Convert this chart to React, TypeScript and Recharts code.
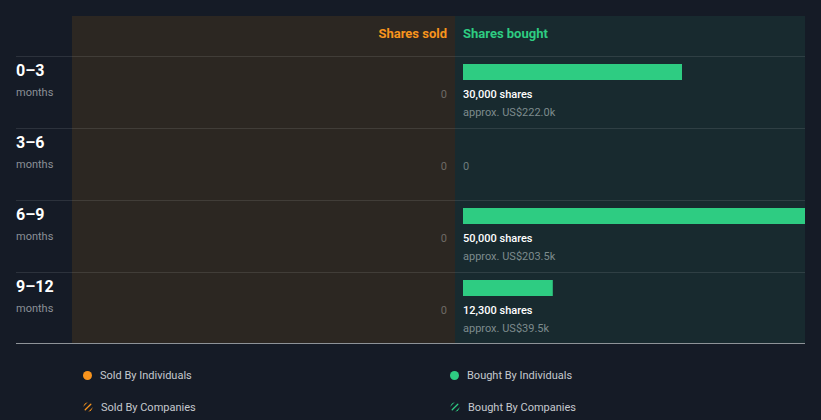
import React from "react";
import { BarChart, Bar, XAxis, YAxis, LabelList } from "recharts";

// rows of the insider trading table
const periods = ["0–3", "3–6", "6–9", "9–12"];
const periodUnit = "months";
const soldShares = [0, 0, 0, 0];
const boughtShares = [30000, 0, 50000, 12300];
const boughtApprox = ["US$222.0k", "", "US$203.5k", "US$39.5k"];
const scaleMax = 50000;

const legendItems = [
  { label: "Sold By Individuals", color: "#f8941d", hatched: false },
  { label: "Bought By Individuals", color: "#2ecc82", hatched: false },
  { label: "Sold By Companies", color: "#f8941d", hatched: true },
  { label: "Bought By Companies", color: "#2ecc82", hatched: true },
];

const rows = periods.map((p, i) => ({
  period: p,
  sold: soldShares[i],
  bought: boughtShares[i],
  approx: boughtApprox[i],
}));

const BG = "#151b26";
const SOLD_BG = "#2c2722";
const BOUGHT_BG = "#182a2f";
const ORANGE = "#f8941d";
const GREEN = "#2ecc82";
const FONT = "Roboto, 'Noto Sans', sans-serif";

const SOLD_W = 455;
const SOLD_PAD = 8;

const fmt = (n: number) => n.toLocaleString("en-US");

// row label on the left, sold value at the right end of the sold panel
const PeriodTick = (props: any) => {
  const { y, payload } = props;
  const row = rows.find((r) => r.period === payload.value);
  return (
    <g>
      <text x={16} y={y - 16} fill="#ffffff" fontSize={16} fontWeight={700} fontFamily={FONT}>
        {payload.value}
      </text>
      <text x={16} y={y + 4} fill="#8b9097" fontSize={11} fontFamily={FONT}>
        {periodUnit}
      </text>
      {row && (
        <text x={SOLD_W - SOLD_PAD} y={y + 6} textAnchor="end" fill="#6e6a66" fontSize={11} fontFamily={FONT}>
          {fmt(row.sold)}
        </text>
      )}
    </g>
  );
};

const BoughtBar = (props: any) => {
  const { x, y, width } = props;
  if (!width || width <= 0) return null;
  return <rect x={x} y={y + 8} width={width} height={16} fill={GREEN} />;
};

const boughtLabel = (props: any) => {
  const vb = props.viewBox || props;
  const { index } = props;
  const row = rows[index];
  const x = vb.x;
  const y = vb.y;
  if (!row) return null;
  if (!row.bought) {
    return (
      <text x={x} y={y + 42} fill="#6f7c7e" fontSize={11} fontFamily={FONT}>
        0
      </text>
    );
  }
  return (
    <g>
      <text x={x} y={y + 42} fill="#ffffff" fontSize={11} fontWeight={500} fontFamily={FONT}>
        {fmt(row.bought)} shares
      </text>
      <text x={x} y={y + 60} fill="#7d8b8d" fontSize={11} fontFamily={FONT}>
        approx. {row.approx}
      </text>
    </g>
  );
};

const HatchIcon = ({ color, id }: { color: string; id: string }) => (
  <svg width={10} height={10} style={{ display: "block" }}>
    <defs>
      <clipPath id={id}>
        <circle cx={5} cy={5} r={4.5} />
      </clipPath>
    </defs>
    <g clipPath={`url(#${id})`} stroke={color} strokeWidth={1.3}>
      <line x1={-2} y1={6} x2={6} y2={-2} />
      <line x1={0} y1={10} x2={10} y2={0} />
      <line x1={4} y1={12} x2={12} y2={4} />
    </g>
  </svg>
);

export default function App() {
  const seps = [56, 128, 200, 272];
  return (
    <div
      style={{
        position: "absolute",
        left: 0,
        top: 0,
        width: 821,
        height: 420,
        background: BG,
        fontFamily: FONT,
        overflow: "hidden",
      }}
    >
      {/* panels */}
      <div style={{ position: "absolute", left: 72, top: 16, width: 383, height: 327, background: SOLD_BG }} />
      <div style={{ position: "absolute", left: 455, top: 16, width: 350, height: 327, background: BOUGHT_BG }} />

      {/* header */}
      <div
        style={{
          position: "absolute",
          left: 72,
          top: 26,
          width: 375,
          textAlign: "right",
          color: ORANGE,
          fontSize: 13,
          fontWeight: 700,
        }}
      >
        Shares sold
      </div>
      <div style={{ position: "absolute", left: 463, top: 26, color: GREEN, fontSize: 13, fontWeight: 700 }}>
        Shares bought
      </div>

      {seps.map((y) => (
        <div
          key={y}
          style={{ position: "absolute", left: 16, top: y, width: 789, height: 1, background: "rgba(255,255,255,0.1)" }}
        />
      ))}
      <div style={{ position: "absolute", left: 16, top: 343, width: 789, height: 1, background: "#8e9398" }} />

      {/* sold side */}
      <div style={{ position: "absolute", left: 0, top: 56, width: SOLD_W, height: 288 }}>
        <BarChart
          width={SOLD_W}
          height={288}
          data={rows}
          layout="vertical"
          margin={{ top: 0, right: SOLD_PAD, bottom: 0, left: 0 }}
          barCategoryGap={0}
        >
          <XAxis type="number" domain={[0, scaleMax]} reversed hide />
          <YAxis
            type="category"
            dataKey="period"
            width={72}
            axisLine={false}
            tickLine={false}
            tick={<PeriodTick />}
          />
          <Bar dataKey="sold" fill={ORANGE} isAnimationActive={false} />
        </BarChart>
      </div>

      {/* bought side */}
      <div style={{ position: "absolute", left: 455, top: 56, width: 350, height: 288, overflow: "hidden" }}>
        <BarChart
          width={373}
          height={288}
          data={rows}
          layout="vertical"
          margin={{ top: 0, right: 0, bottom: 0, left: 8 }}
          barCategoryGap={0}
        >
          <XAxis type="number" domain={[0, scaleMax]} hide />
          <YAxis type="category" dataKey="period" hide />
          <Bar dataKey="bought" fill={GREEN} shape={BoughtBar} isAnimationActive={false}>
            <LabelList dataKey="bought" content={boughtLabel} />
          </Bar>
        </BarChart>
      </div>

      {/* legend */}
      {legendItems.map((item, i) => {
        const col = i % 2;
        const row = Math.floor(i / 2);
        const left = col === 0 ? 83 : 450;
        const top = row === 0 ? 370 : 402;
        return (
          <div
            key={item.label}
            style={{ position: "absolute", left, top, display: "flex", alignItems: "center", height: 10 }}
          >
            {item.hatched ? (
              <HatchIcon color={item.color} id={`hatch-${i}`} />
            ) : (
              <div style={{ width: 9, height: 9, borderRadius: 5, background: item.color }} />
            )}
            <span style={{ marginLeft: 8, color: "#c5c9ce", fontSize: 11, whiteSpace: "nowrap" }}>{item.label}</span>
          </div>
        );
      })}
    </div>
  );
}
